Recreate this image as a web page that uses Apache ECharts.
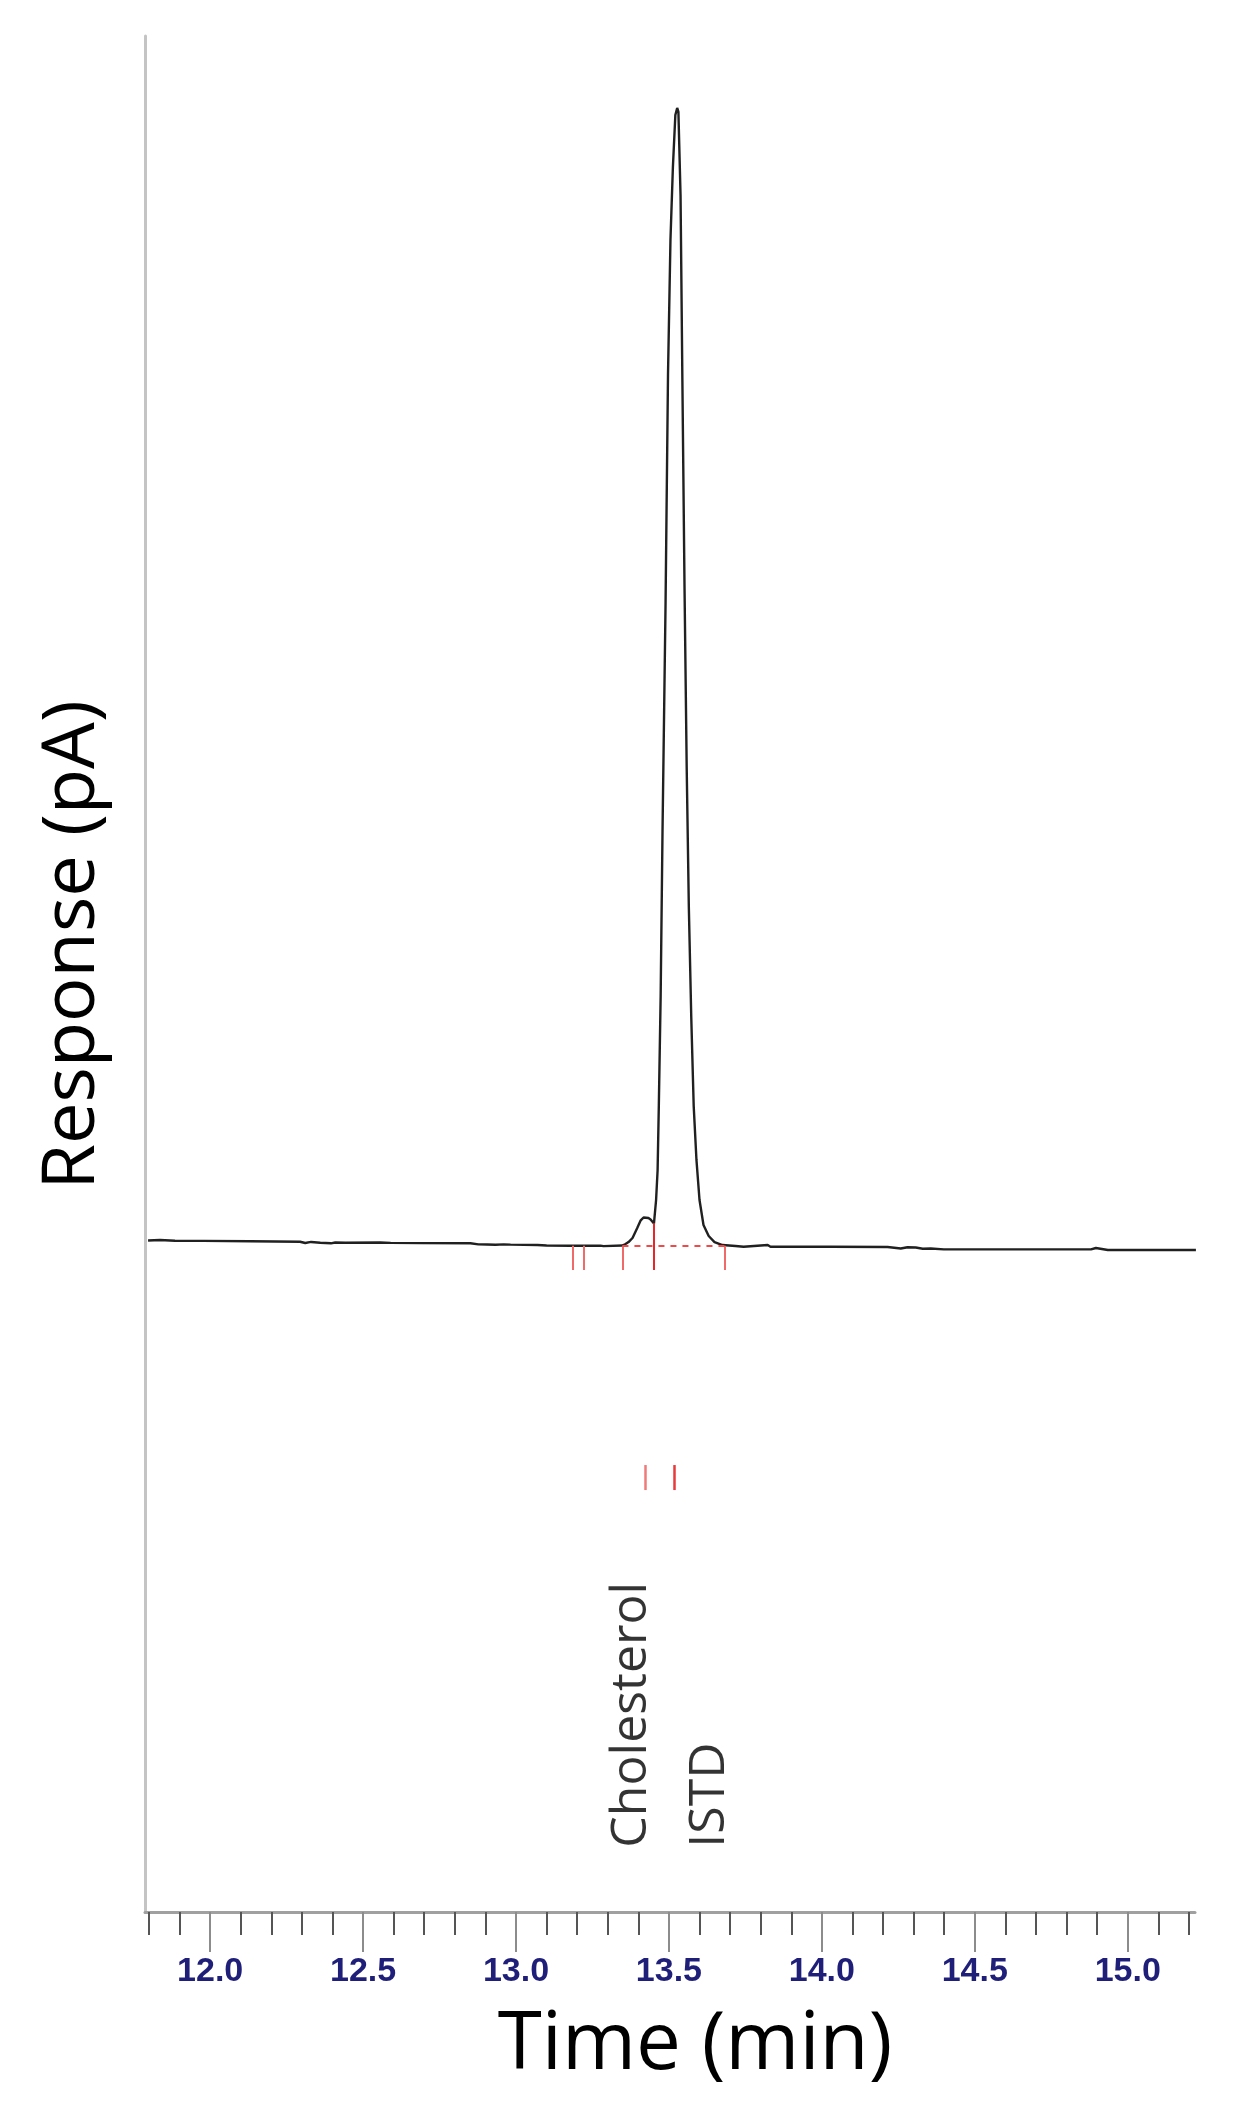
<!DOCTYPE html>
<html>
<head>
<meta charset="utf-8">
<title>GC chromatogram - cholesterol / ISTD</title>
<script src="https://cdn.jsdelivr.net/npm/echarts@6/dist/echarts.min.js"></script>
<style>
  html, body { margin: 0; padding: 0; background: #fff; }
  #chart { width: 1240px; height: 2103px; }
</style>
</head>
<body>
<div id="chart"></div>
<script>
// retention time (min) and detector response (arbitrary, ISTD apex = 100)
const times = [
  11.797, 11.836, 11.885, 11.977, 12.131, 12.294, 12.311, 12.330, 12.360, 12.395,
  12.409, 12.442, 12.556, 12.590, 12.687, 12.851, 12.877, 12.905, 12.933, 12.960,
  12.982, 13.070, 13.100, 13.178, 13.276, 13.286, 13.348,
  13.358, 13.368, 13.381, 13.396, 13.407, 13.417, 13.423, 13.433, 13.440, 13.451,
  13.458, 13.463, 13.467, 13.473, 13.479, 13.489, 13.497, 13.505, 13.513, 13.521,
  13.527, 13.531, 13.538, 13.544, 13.551, 13.558, 13.565, 13.573, 13.581, 13.590,
  13.600, 13.613, 13.630, 13.649, 13.675, 13.718, 13.744, 13.823, 13.832, 14.029,
  14.215, 14.258, 14.280, 14.307, 14.330, 14.356, 14.399, 14.618, 14.880, 14.896,
  14.935, 15.076, 15.223
];
const response = [
  0.40, 0.44, 0.38, 0.36, 0.33, 0.29, 0.18, 0.27, 0.20, 0.15,
  0.22, 0.20, 0.22, 0.19, 0.17, 0.15, 0.06, 0.04, 0.02, 0.06,
  0.03, 0.00, -0.04, -0.06, -0.05, -0.10, -0.04,
  0.09, 0.26, 0.62, 1.47, 2.14, 2.42, 2.49, 2.37, 2.24, 1.89,
  3.96, 6.60, 12.31, 21.99, 36.32, 56.46, 76.61, 88.39, 94.81, 99.38,
  100.0, 99.65, 92.26, 75.99, 57.78, 42.13, 29.82, 20.05, 12.22, 7.48,
  3.96, 1.76, 0.79, 0.26, 0.00, -0.09, -0.15, 0.00, -0.15, -0.15,
  -0.18, -0.31, -0.20, -0.22, -0.33, -0.31, -0.38, -0.38, -0.38, -0.26,
  -0.44, -0.44, -0.44
];

// integration event marks on the baseline
const eventTimes = [13.185, 13.221, 13.348, 13.450, 13.682];
const eventTops = [-0.06, -0.06, -0.06, 1.91, -0.06];
const eventBottom = -2.2;
const baselineFrom = 13.348;
const baselineTo = 13.682;
const baselineLevel = -0.06;

// identified peaks
const peakNames = ['Cholesterol', 'ISTD'];
const peakTimes = [13.421, 13.519];
const peakMarkTop = -19.35;
const peakMarkBottom = -21.55;
const labelTimes = [13.380, 13.632];
const labelLevel = -53.0;

// axis ticks
const majorTicks = [12.0, 12.5, 13.0, 13.5, 14.0, 14.5, 15.0];
const minorTicks = [
  11.8, 11.9, 12.1, 12.2, 12.3, 12.4, 12.6, 12.7, 12.8, 12.9,
  13.1, 13.2, 13.3, 13.4, 13.6, 13.7, 13.8, 13.9, 14.1, 14.2,
  14.3, 14.4, 14.6, 14.7, 14.8, 14.9, 15.1, 15.2
];
const xMin = 11.787;
const xMax = 15.22;
const yMin = -58.66;
const yMax = 106.33;

const chart = echarts.init(document.getElementById('chart'));

const trace = times.map((t, i) => [t, response[i]]);

const redLines = [];
eventTimes.forEach((t, i) => {
  redLines.push([
    { coord: [t, eventTops[i]], lineStyle: { color: i === 3 ? '#e8262a' : '#f06a6a', width: 2, type: 'solid' } },
    { coord: [t, eventBottom] }
  ]);
});
redLines.push([
  { coord: [baselineFrom, baselineLevel], lineStyle: { color: '#ee4a4a', width: 2, type: [6, 6] } },
  { coord: [baselineTo, baselineLevel] }
]);
peakTimes.forEach((t, i) => {
  redLines.push([
    { coord: [t, peakMarkTop], lineStyle: { color: i === 0 ? '#f07a7a' : '#e83a3a', width: 2.5, type: 'solid' } },
    { coord: [t, peakMarkBottom] }
  ]);
});

const option = {
  animation: false,
  backgroundColor: '#ffffff',
  grid: { left: 145, right: 45, top: 36, bottom: 191 },
  xAxis: [
    {
      type: 'value',
      position: 'bottom',
      min: xMin,
      max: xMax,
      name: 'Time (min)',
      nameLocation: 'middle',
      nameGap: 94,
      nameTextStyle: {
        fontFamily: 'Open Sans',
        fontSize: 80,
        color: '#000',
        padding: [0, 0, 0, 50]
      },
      axisLine: { onZero: false, lineStyle: { color: '#a0a0a0', width: 3 } },
      axisTick: {
        show: true,
        customValues: majorTicks,
        length: 40,
        lineStyle: { color: '#8c8c8c', width: 2 }
      },
      axisLabel: {
        customValues: majorTicks,
        formatter: v => v.toFixed(1),
        margin: 43,
        fontFamily: 'Liberation Sans',
        fontWeight: 'bold',
        fontSize: 34,
        color: '#1f1f7a'
      },
      splitLine: { show: false }
    },
    {
      type: 'value',
      position: 'bottom',
      min: xMin,
      max: xMax,
      axisLine: { show: false, onZero: false },
      axisTick: {
        show: true,
        customValues: minorTicks,
        length: 23,
        lineStyle: { color: '#555555', width: 2 }
      },
      axisLabel: { show: false },
      splitLine: { show: false }
    }
  ],
  yAxis: {
    type: 'value',
    min: yMin,
    max: yMax,
    name: 'Response (pA)',
    nameLocation: 'middle',
    nameRotate: 90,
    nameGap: 35,
    nameTextStyle: {
      fontFamily: 'Open Sans',
      fontSize: 74,
      color: '#000',
      padding: [0, 0, 0, 58]
    },
    axisLine: { show: true, onZero: false, lineStyle: { color: '#c4c4c4', width: 3 } },
    axisTick: { show: false },
    axisLabel: { show: false },
    splitLine: { show: false }
  },
  series: [
    {
      name: 'FID signal',
      type: 'line',
      xAxisIndex: 0,
      data: trace,
      showSymbol: false,
      lineStyle: { color: '#202020', width: 2.4 },
      z: 3,
      markLine: {
        silent: true,
        symbol: 'none',
        label: { show: false },
        data: redLines,
        z: 4
      }
    },
    {
      name: 'Peak labels',
      type: 'scatter',
      xAxisIndex: 0,
      symbolSize: 0,
      data: peakNames.map((n, i) => [labelTimes[i], labelLevel, n]),
      label: {
        show: true,
        position: 'inside',
        rotate: 90,
        align: 'left',
        verticalAlign: 'middle',
        formatter: p => p.data[2],
        fontFamily: 'Open Sans',
        fontSize: 50,
        color: '#000',
        textBorderWidth: 0,
        textShadowBlur: 0
      }
    }
  ]
};

chart.setOption(option);
</script>
</body>
</html>
